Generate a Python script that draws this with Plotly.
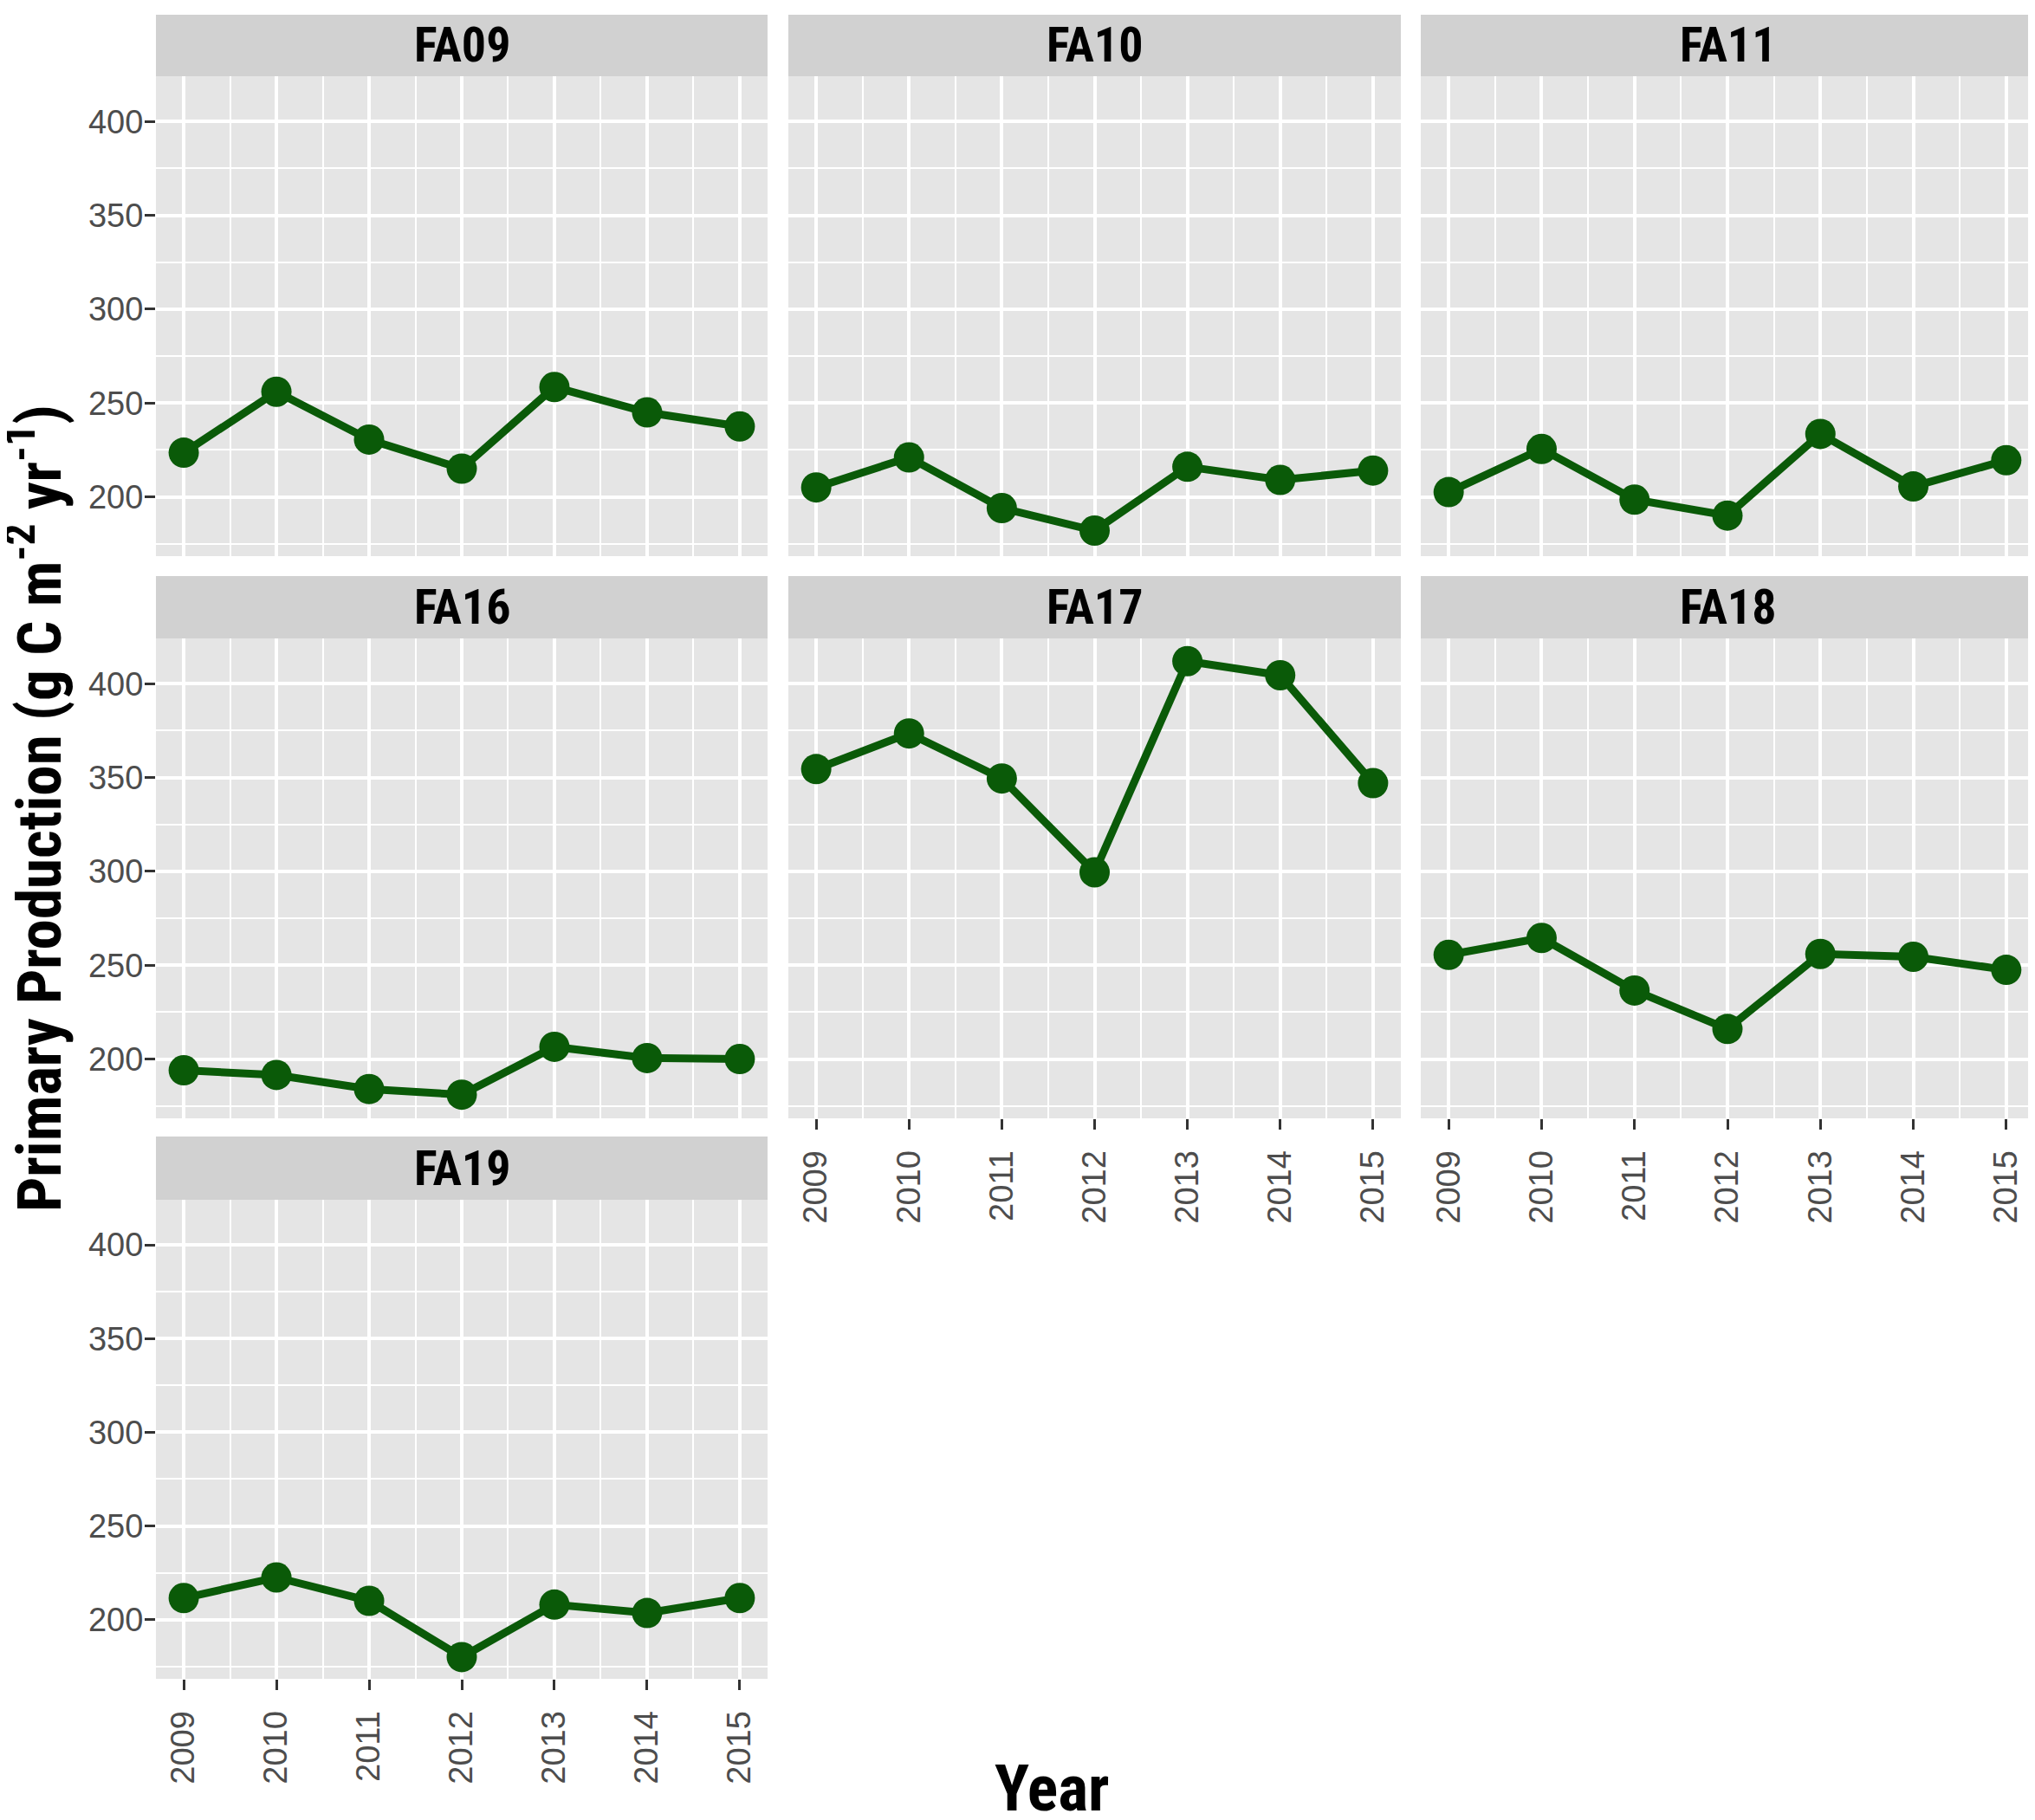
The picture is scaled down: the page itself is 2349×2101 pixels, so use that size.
import plotly.graph_objects as go

# data
years = [2009, 2010, 2011, 2012, 2013, 2014, 2015]
sites = ["FA09", "FA10", "FA11", "FA16", "FA17", "FA18", "FA19"]

fa09 = [223.5, 256.0, 230.5, 215.0, 258.5, 245.0, 237.5]
fa10 = [205.0, 221.0, 194.0, 182.0, 216.0, 209.0, 214.0]
fa11 = [202.5, 225.5, 198.5, 190.0, 233.5, 205.5, 219.5]
fa16 = [194.0, 191.5, 184.0, 181.0, 206.5, 200.5, 200.0]
fa17 = [354.5, 373.5, 349.5, 299.5, 412.0, 404.5, 347.0]
fa18 = [255.5, 264.5, 236.5, 216.0, 256.0, 254.5, 247.5]
fa19 = [211.5, 222.5, 210.0, 180.0, 208.0, 203.5, 211.5]
series = [fa09, fa10, fa11, fa16, fa17, fa18, fa19]

y_ticks = [200, 250, 300, 350, 400]

W, H = 2349, 2101
col_px = [(172, 878), (902, 1609), (1632, 2340)]
row_px = [(9, 80, 634), (657, 729, 1283), (1304, 1377, 1930)]  # strip top, plot top, plot bottom

GREEN = "#0a5a08"
PANEL = "#e5e5e5"
STRIP = "#d1d1d1"
NARROW = "Roboto Condensed, Liberation Sans, sans-serif"
TICKFONT = dict(family="Liberation Sans, Arial, sans-serif", size=38, color="#4d4d4d")

fig = go.Figure()
shapes = []
annotations = []

for i, (name, vals) in enumerate(zip(sites, series)):
    r, c = divmod(i, 3)
    k = i + 1
    xa = "x" if k == 1 else f"x{k}"
    ya = "y" if k == 1 else f"y{k}"
    x0, x1 = col_px[c]
    s0, p0, p1 = row_px[r]

    fig.add_trace(go.Scatter(
        x=years, y=vals, xaxis=xa, yaxis=ya, mode="lines+markers",
        line=dict(color=GREEN, width=9),
        marker=dict(color=GREEN, size=35),
        showlegend=False, hoverinfo="x+y",
    ))

    show_x = name in ("FA17", "FA18", "FA19")
    show_y = c == 0

    fig.layout[("xaxis" if k == 1 else f"xaxis{k}")] = dict(
        domain=[x0 / W, x1 / W], anchor=ya, range=[2008.7, 2015.3],
        tickmode="array", tickvals=years, ticktext=[str(y) for y in years],
        showticklabels=show_x, ticks="outside" if show_x else "",
        ticklen=12, tickwidth=3, tickcolor="#333333", tickangle=-90,
        tickfont=TICKFONT, ticklabelstandoff=9,
        showgrid=True, gridcolor="white", gridwidth=4,
        minor=dict(dtick=0.5, tick0=2009, showgrid=True, gridcolor="white", gridwidth=2, ticks=""),
        zeroline=False, showline=False, fixedrange=True,
    )
    fig.layout[("yaxis" if k == 1 else f"yaxis{k}")] = dict(
        domain=[1 - p1 / H, 1 - p0 / H], anchor=xa, range=[168.4, 424.1],
        tickmode="array", tickvals=y_ticks,
        showticklabels=show_y, ticks="outside" if show_y else "",
        ticklen=12, tickwidth=3, tickcolor="#333333",
        tickfont=TICKFONT, ticklabelstandoff=-6,
        showgrid=True, gridcolor="white", gridwidth=4,
        minor=dict(dtick=25, tick0=0, showgrid=True, gridcolor="white", gridwidth=2, ticks=""),
        zeroline=False, showline=False, fixedrange=True,
    )

    # panel background and strip
    shapes.append(dict(type="rect", xref="paper", yref="paper", layer="below",
                       x0=x0 / W, x1=x1 / W, y0=1 - p1 / H, y1=1 - p0 / H,
                       fillcolor=PANEL, line=dict(width=0)))
    shapes.append(dict(type="rect", xref="paper", yref="paper",
                       x0=x0 / W, x1=x1 / W, y0=1 - p0 / H, y1=1 - s0 / H,
                       fillcolor=STRIP, line=dict(width=0)))
    annotations.append(dict(text=f"<b>{name}</b>", xref="paper", yref="paper",
                            x=(x0 + x1) / 2 / W, y=1 - (s0 + p0) / 2 / H,
                            xanchor="center", yanchor="middle", showarrow=False,
                            font=dict(family=NARROW, size=56, color="black")))

# axis titles
annotations.append(dict(text="<b>Primary Production (g C m<sup>-2</sup> yr<sup>-1</sup>)</b>",
                        xref="paper", yref="paper", x=33 / W, y=1 - 925 / H,
                        xanchor="center", yanchor="middle", textangle=-90, showarrow=False,
                        font=dict(family=NARROW, size=71, color="black")))
annotations.append(dict(text="<b>Year</b>", xref="paper", yref="paper",
                        x=1206 / W, y=1 - 2056 / H, xanchor="center", yanchor="middle",
                        showarrow=False, font=dict(family=NARROW, size=74, color="black")))

fig.update_layout(
    width=W, height=H, margin=dict(l=0, r=0, t=0, b=0),
    paper_bgcolor="white", plot_bgcolor="rgba(0,0,0,0)",
    shapes=shapes, annotations=annotations, showlegend=False,
)

fig.write_html("out.html")
